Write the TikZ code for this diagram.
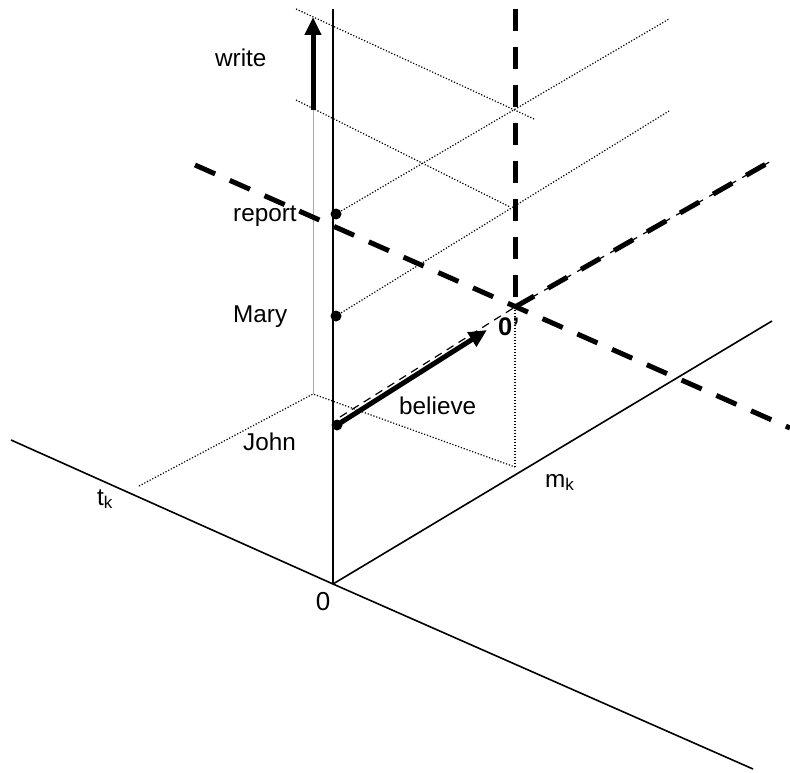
\documentclass[tikz,border=0pt]{standalone}
\usepackage{fontspec}
\setmainfont{Liberation Sans}
\usetikzlibrary{arrows.meta}

\definecolor{ink}{HTML}{000000}
\definecolor{guidegray}{HTML}{A8A8A8}

\begin{document}
\begin{tikzpicture}[
  x=1pt,
  y=-1pt,
  font=\fontsize{24.3}{29}\selectfont,
  axis/.style={draw=ink,line width=1.6pt},
  guide/.style={draw=ink,line width=1.2pt,dash pattern=on 1.2pt off 1.8pt},
  greyguide/.style={draw=guidegray,line width=.9pt},
  heavydash/.style={draw=ink,line width=5pt,dash pattern=on 22pt off 16pt},
  lightdash/.style={draw=ink,line width=1.2pt,dash pattern=on 8pt off 6pt},
  tracedash/.style={draw=ink,line width=1.2pt,dash pattern=on 31pt off 7pt,dash phase=4.5pt},
  mover/.style={draw=ink,line width=5pt,-{Triangle[length=18pt,width=16pt]}},
  dot/.style={circle,fill=ink,inner sep=0pt,minimum size=11pt},
  word/.style={text=ink,inner sep=0pt}
]
\useasboundingbox (0,0) rectangle (790,773);

% axes
\coordinate (orig) at (333,584);
\coordinate (ztop) at (333,9);
\coordinate (tnear) at (11,440);
\coordinate (tfar) at (753,769);
\coordinate (mfar) at (772,321);
\draw[axis] (tnear) -- (orig) -- (tfar);
\draw[axis] (orig) -- (mfar);
\draw[axis,line width=2pt] (orig) -- (ztop);

% word positions on the vertical
\node[dot] (report) at (336,214) {};
\node[dot] (mary) at (336,316) {};
\node[dot] (john) at (337,425) {};
\coordinate (prime) at (515,307);

% dotted guides
\coordinate (topA) at (296,9);
\coordinate (topAend) at (534,119);
\coordinate (topB) at (296,100);
\coordinate (topBend) at (510,207);
\coordinate (reportend) at (669,19);
\coordinate (maryend) at (669,111);
\coordinate (floorleft) at (139,486);
\coordinate (floorcorner) at (313,394);
\coordinate (floorright) at (515,467);
\draw[guide] (topA) -- (topAend);
\draw[guide] (topB) -- (topBend);
\draw[guide] (report.center) -- (reportend);
\draw[guide] (mary.center) -- (maryend);
\draw[guide] (floorleft) -- (floorcorner) -- (floorright);
\draw[guide] (prime) -- (floorright);

% write
\coordinate (writefoot) at (313,110);
\coordinate (writetip) at (313,17);
\draw[greyguide] (writefoot) -- (floorcorner);
\draw[mover] (writefoot) -- (writetip);

% shifted frame
\coordinate (primetop) at (515,9);
\coordinate (slantleft) at (195,165);
\coordinate (slantright) at (790,428);
\coordinate (riseend) at (773,160);
\draw[heavydash] (primetop) -- (prime);
\draw[heavydash] (slantleft) -- (slantright);
\draw[tracedash] (prime) -- (riseend);
\draw[heavydash] (prime) -- (riseend);

% believe
\coordinate (tracefoot) at (340,417);
\coordinate (believetip) at (487,330);
\draw[lightdash] (tracefoot) -- (prime);
\draw[mover] (john.center) -- (believetip);

% labels
\node[word,anchor=base west] (writelabel) at (215,67) {write};
\node[word,anchor=base west] (reportlabel) at (233,221) {report};
\node[word,anchor=base west] (marylabel) at (233,322) {Mary};
\node[word,anchor=base west] (johnlabel) at (243,450) {John};
\node[word,anchor=base west] (believelabel) at (399,414) {believe};
\node[word,anchor=base west,font=\fontsize{25.5}{30}\selectfont\bfseries]
  (primelabel) at (498,335) {0'};
\node[word,anchor=base west] (tlabel) at (97,505) {t\textsubscript{k}};
\node[word,anchor=base west] (mlabel) at (545,487) {m\textsubscript{k}};
\node[word,anchor=base,font=\fontsize{26}{31}\selectfont] (origlabel) at (323,610) {0};
\end{tikzpicture}
\end{document}
